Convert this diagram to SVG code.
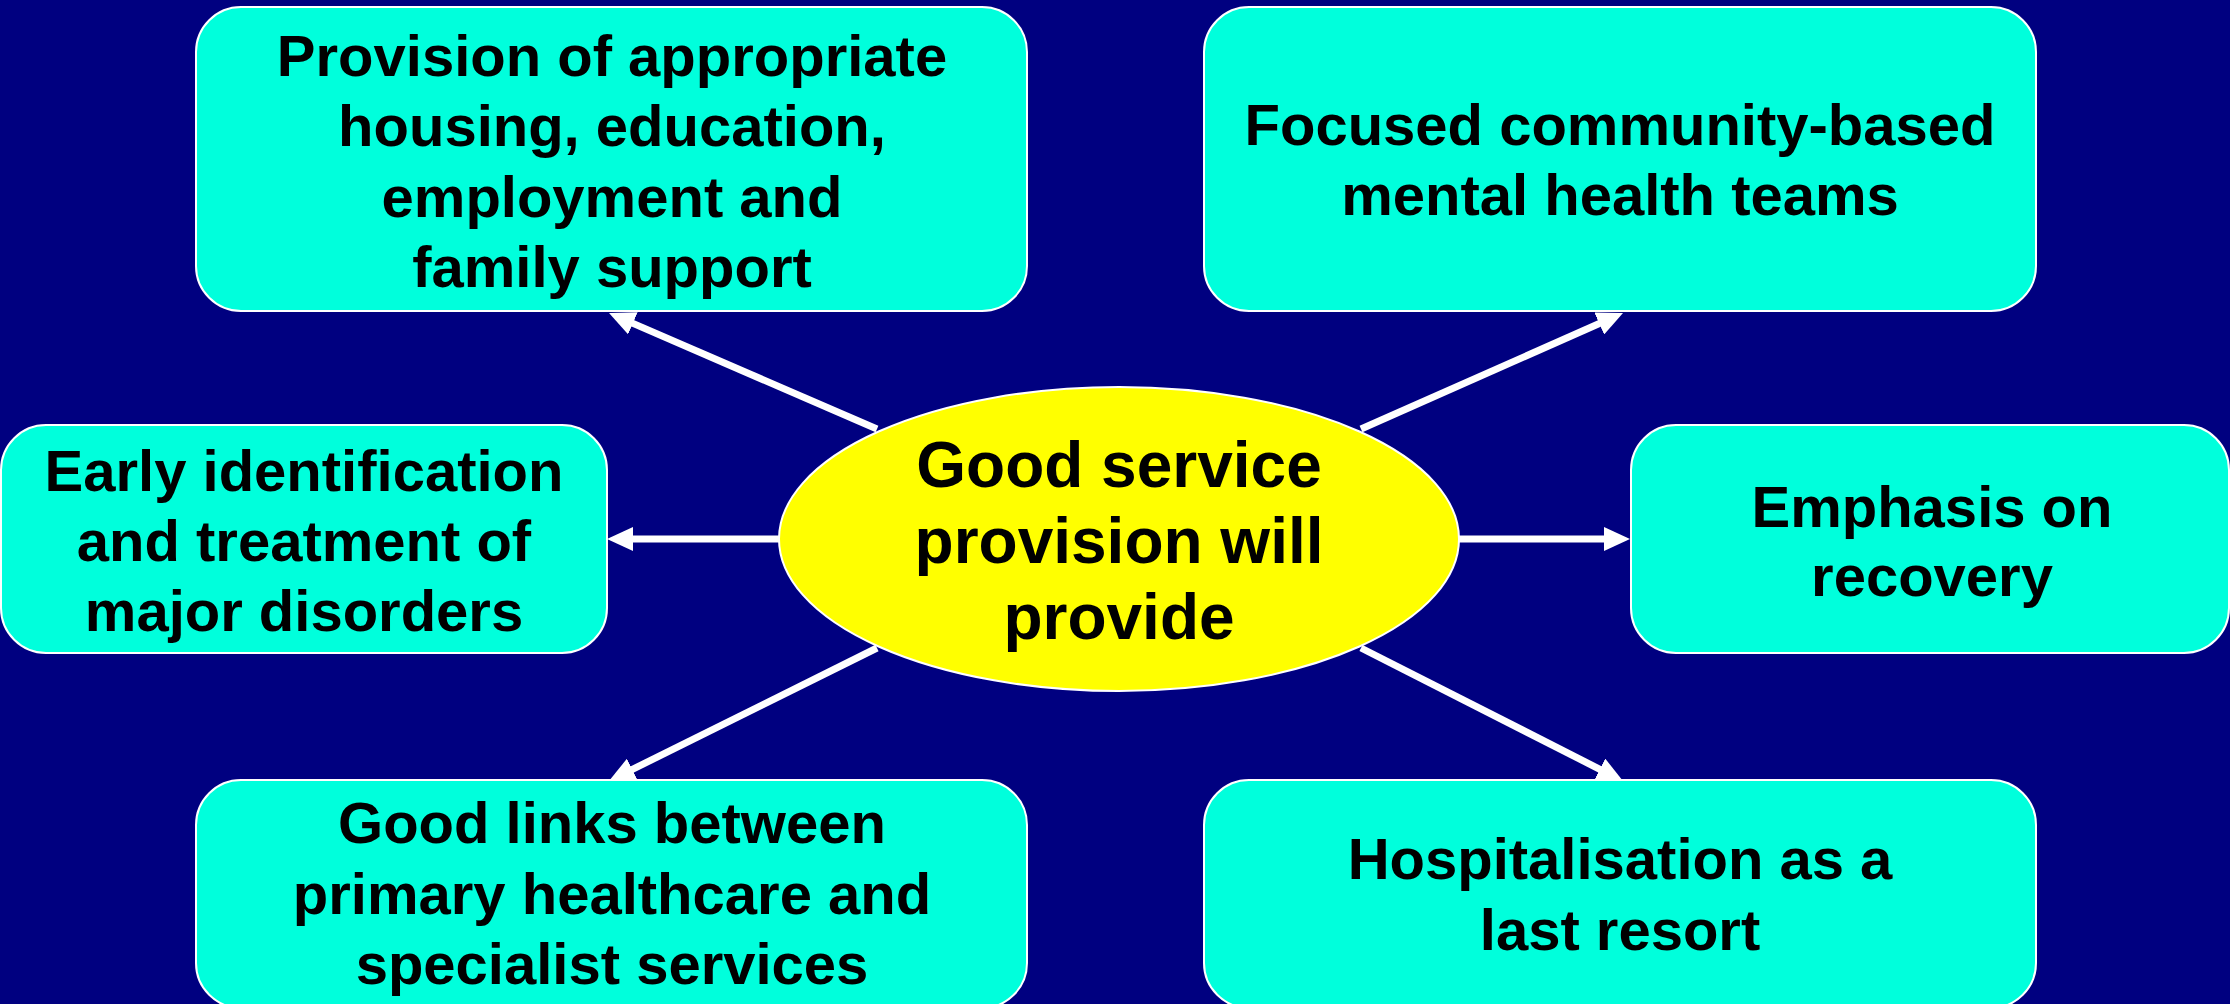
<svg xmlns="http://www.w3.org/2000/svg" width="2230" height="1004" viewBox="0 0 2230 1004">
<style>
.box{fill:#00FFDC;stroke:#FFFFFF;stroke-width:2}
.hub{fill:#FFFF00;stroke:#FFFFFF;stroke-width:2}
.t{font-family:"Liberation Sans",Arial,sans-serif;font-weight:bold;font-size:58px;fill:#000000;text-anchor:middle}
.th{font-size:64px}
.c{stroke:#FFFFFF;stroke-width:7;fill:none;marker-end:url(#ah)}
</style>
<defs>
<marker id="ah" viewBox="0 0 26 24" refX="10" refY="12" markerWidth="26" markerHeight="24" markerUnits="userSpaceOnUse" orient="auto">
<path d="M0,0 L26,12 L0,24 z" fill="#FFFFFF"/>
</marker>
</defs>
<rect width="2230" height="1004" fill="#000080"/>
<g id="connectors">
<line class="c" x1="779" y1="539" x2="623" y2="539"/>
<line class="c" x1="1459" y1="539" x2="1614" y2="539"/>
<line class="c" x1="877" y1="429" x2="623.7" y2="319.4"/>
<line class="c" x1="1361" y1="429" x2="1608.4" y2="319.5"/>
<line class="c" x1="877" y1="648" x2="623.3" y2="773.9"/>
<line class="c" x1="1361" y1="648" x2="1608.7" y2="773.8"/>
</g>
<g id="hub">
<ellipse class="hub" cx="1119" cy="539" rx="340" ry="152"/>
<text class="t th" x="1119" y="487">Good service</text>
<text class="t th" x="1119" y="563">provision will</text>
<text class="t th" x="1119" y="639">provide</text>
</g>
<g id="node-housing">
<rect class="box" x="196" y="7" width="831" height="304" rx="45" ry="45"/>
<text class="t" x="612" y="76">Provision of appropriate</text>
<text class="t" x="612" y="146">housing, education,</text>
<text class="t" x="612" y="217">employment and</text>
<text class="t" x="612" y="287">family support</text>
</g>
<g id="node-community">
<rect class="box" x="1204" y="7" width="832" height="304" rx="45" ry="45"/>
<text class="t" x="1620" y="145">Focused community-based</text>
<text class="t" x="1620" y="215">mental health teams</text>
</g>
<g id="node-early">
<rect class="box" x="1" y="425" width="606" height="228" rx="45" ry="45"/>
<text class="t" x="304" y="491">Early identification</text>
<text class="t" x="304" y="561">and treatment of</text>
<text class="t" x="304" y="631">major disorders</text>
</g>
<g id="node-recovery">
<rect class="box" x="1631" y="425" width="598" height="228" rx="45" ry="45"/>
<text class="t" x="1932" y="527">Emphasis on</text>
<text class="t" x="1932" y="596">recovery</text>
</g>
<g id="node-links">
<rect class="box" x="196" y="780" width="831" height="228" rx="45" ry="45"/>
<text class="t" x="612" y="843">Good links between</text>
<text class="t" x="612" y="914">primary healthcare and</text>
<text class="t" x="612" y="984">specialist services</text>
</g>
<g id="node-hospital">
<rect class="box" x="1204" y="780" width="832" height="228" rx="45" ry="45"/>
<text class="t" x="1620" y="879">Hospitalisation as a</text>
<text class="t" x="1620" y="950">last resort</text>
</g>
</svg>
